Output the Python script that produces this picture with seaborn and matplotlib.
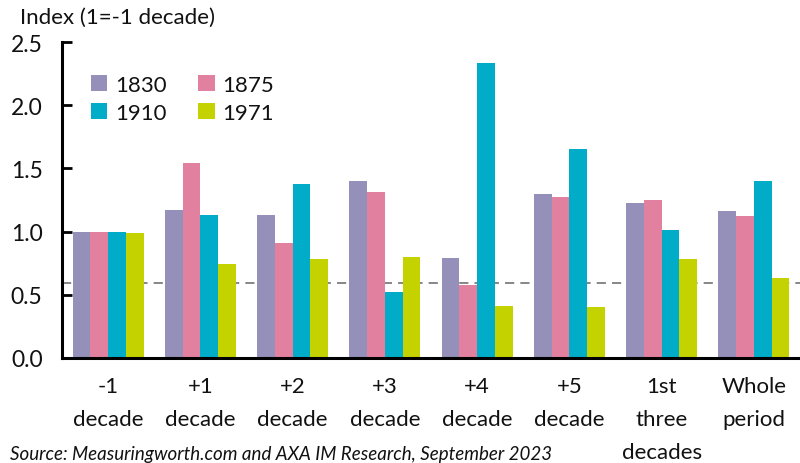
import matplotlib
matplotlib.use("Agg")
import matplotlib.pyplot as plt
import seaborn as sns
import pandas as pd
import numpy as np

categories = ["-1\ndecade", "+1\ndecade", "+2\ndecade", "+3\ndecade", "+4\ndecade",
              "+5\ndecade", "1st\nthree\ndecades", "Whole\nperiod"]
series = ["1830", "1875", "1910", "1971"]
v1830 = [1.00, 1.17, 1.13, 1.40, 0.79, 1.30, 1.23, 1.16]
v1875 = [1.00, 1.54, 0.91, 1.31, 0.58, 1.27, 1.25, 1.12]
v1910 = [1.00, 1.13, 1.38, 0.52, 2.33, 1.65, 1.01, 1.40]
v1971 = [0.99, 0.74, 0.78, 0.80, 0.41, 0.40, 0.78, 0.63]
reference_level = 0.59
colors = ["#9490BA", "#E280A0", "#00ACC8", "#C4D200"]
yticks = [0.0, 0.5, 1.0, 1.5, 2.0, 2.5]

rows = []
for s, vals in zip(series, [v1830, v1875, v1910, v1971]):
    for c, v in zip(categories, vals):
        rows.append({"cat": c, "series": s, "val": v})
df = pd.DataFrame(rows)

sns.set_theme(style="white")
plt.rcParams["font.family"] = ["Lato", "DejaVu Sans"]
plt.rcParams["text.color"] = "#111111"
plt.rcParams["xtick.labelcolor"] = "#111111"
plt.rcParams["ytick.labelcolor"] = "#111111"

fig = plt.figure(figsize=(8, 4.64), dpi=100)
ax = fig.add_axes([62/800, (464-359)/464, (800-62)/800, (359-43)/464])

sns.barplot(data=df, x="cat", y="val", hue="series", order=categories,
            hue_order=series, palette=colors, width=0.77, saturation=1,
            ax=ax, errorbar=None, linewidth=0)

ax.axhline(reference_level, color="#666666", linestyle=(0, (6, 4)), linewidth=1.1, zorder=0.5)

ax.set_xlim(-0.5, len(categories) - 0.5)
ax.set_ylim(0, 2.5)
ax.set_yticks(yticks)
ax.set_yticklabels([f"{t:.1f}" for t in yticks], fontsize=16.5)

ax.set_xticks(np.arange(len(categories)) + 0.5)
ax.set_xticklabels([])
ax.set_xticks(np.arange(len(categories)), minor=True)
ax.set_xticklabels(categories, minor=True, fontsize=16, linespacing=1.8, va="top")
ax.tick_params(axis="x", which="minor", length=0, pad=13)
ax.tick_params(axis="x", which="major", direction="in", length=7, width=2, color="black")
ax.tick_params(axis="y", direction="in", length=7, width=2, color="black", pad=14, left=True)

for side in ["top", "right"]:
    ax.spines[side].set_visible(False)
for side in ["left", "bottom"]:
    ax.spines[side].set_color("black")
    ax.spines[side].set_linewidth(2.2)

ax.set_xlabel("")
ax.set_ylabel("")

handles, labels = ax.get_legend_handles_labels()
order = [0, 2, 1, 3]
leg = ax.legend([handles[i] for i in order], [labels[i] for i in order],
                ncol=2, loc="upper left", bbox_to_anchor=(0.027, 0.925), frameon=False,
                fontsize=16, handlelength=0.75, handleheight=0.75, handletextpad=0.35,
                columnspacing=1.4, labelspacing=0.36, borderaxespad=0)

fig.text(20/800, 1 - 18/464, "Index (1=-1 decade)", fontsize=16, va="center", ha="left")
fig.text(10/800, 1 - 455/464, "Source: Measuringworth.com and AXA IM Research, September 2023",
         fontsize=13.5, style="italic", va="center", ha="left")

fig.savefig("out.png", dpi=100)
